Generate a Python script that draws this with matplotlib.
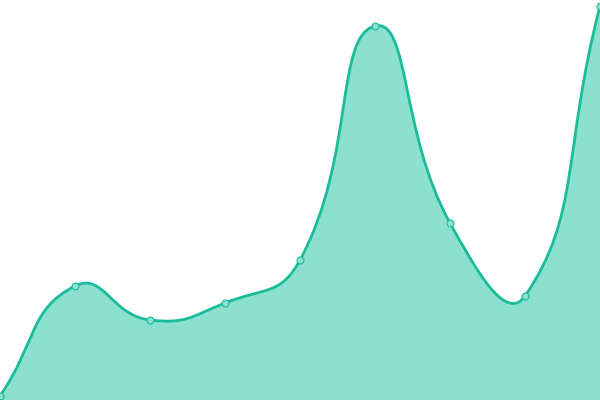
import numpy as np
import matplotlib
matplotlib.use("Agg")
import matplotlib.pyplot as plt
from matplotlib.path import Path
from matplotlib.patches import PathPatch

# data
xs = [0, 1, 2, 3, 4, 5, 6, 7, 8]
vals = [4, 114, 80, 97, 140, 374, 177, 104, 394]

line_col = "#1abc9c"
fill_col = "#8be0cf"


def smooth_path(ax, x, y, smooth=0.5):
    # bezier through the points, control arms weighted by screen distance
    pts = ax.transData.transform(np.column_stack([x, y]))
    n = len(pts)
    cin = []
    cout = []
    for i in range(n):
        p = pts[i]
        prev = pts[max(i-1, 0)]
        nxt = pts[min(i+1, n-1)]
        v = (nxt - prev) * smooth
        d0 = np.hypot(*(p - prev))
        d1 = np.hypot(*(p - nxt))
        tot = d0 + d1
        if tot > 0:
            d0 /= tot
            d1 /= tot
        cin.append(p - v * d0)
        cout.append(p + v * d1)
    verts = [pts[0]]
    codes = [Path.MOVETO]
    for i in range(n - 1):
        verts += [cout[i], cin[i+1], pts[i+1]]
        codes += [Path.CURVE4] * 3
    inv = ax.transData.inverted()
    return [tuple(q) for q in inv.transform(np.array(verts))], codes


fig = plt.figure(figsize=(6, 4), dpi=100)
ax = fig.add_axes([0, 0, 1, 1])
ax.set_xlim(0, 8)
ax.set_ylim(0, 400)
ax.axis("off")

v, c = smooth_path(ax, xs, vals)
fv = v + [(xs[-1], 0), (xs[0], 0), v[0]]
fc = c + [Path.LINETO, Path.LINETO, Path.CLOSEPOLY]
ax.add_patch(PathPatch(Path(fv, fc), facecolor=fill_col, edgecolor="none", zorder=1))
ax.add_patch(PathPatch(Path(v, c), facecolor="none", edgecolor=line_col, lw=2.0,
                       zorder=2, capstyle="round", joinstyle="round"))
ax.plot(xs, vals, "o", ms=5, mfc=fill_col, mec=line_col, mew=0.8, zorder=3, clip_on=False)

fig.savefig("out.png", dpi=100)
